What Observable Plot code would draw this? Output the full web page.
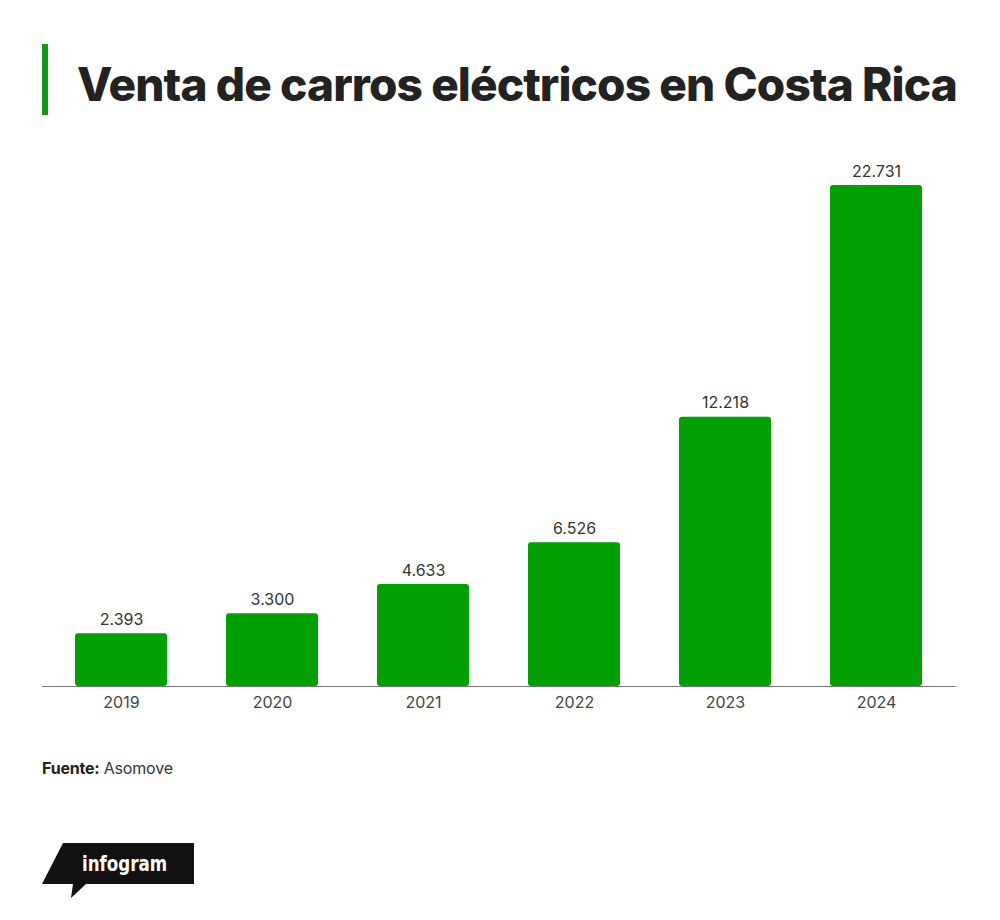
<!DOCTYPE html>
<html>
<head>
<meta charset="utf-8">
<script src="https://cdn.jsdelivr.net/npm/d3@7"></script>
<script src="https://cdn.jsdelivr.net/npm/@observablehq/plot@0.6"></script>
<style>
  html, body { margin: 0; padding: 0; background: #fff; }
  body { width: 1000px; height: 920px; position: relative; font-family: Inter, "Liberation Sans", sans-serif; }
  #titlebar { position: absolute; left: 42px; top: 44px; width: 6px; height: 71px; background: #0c9a17; }
  #title { position: absolute; left: 77px; top: 54px; margin: 0; font-size: 46px; font-weight: 800; letter-spacing: -0.9px; color: #222; white-space: nowrap; line-height: 60px; }
  #chart { position: absolute; left: 0; top: 140px; }
  #source { position: absolute; left: 42px; top: 758px; font-size: 16px; color: #333; letter-spacing: -0.2px; }
  #source b { color: #222; }
  #logo { position: absolute; left: 40px; top: 840px; }
</style>
</head>
<body>
<div id="titlebar"></div>
<h1 id="title">Venta de carros eléctricos en Costa Rica</h1>
<div id="chart"></div>
<div id="source"><b>Fuente:</b> Asomove</div>
<svg id="logo" width="160" height="62" viewBox="40 840 160 62">
  <path d="M63,843 L194,843 L194,884 L86,884 L71,898 L73,884 L42,884 Z" fill="#111"/>
  <text x="82" y="871" fill="#fff" font-family="'DejaVu Sans Condensed','DejaVu Sans',sans-serif" font-weight="bold" font-size="22" textLength="85" lengthAdjust="spacingAndGlyphs">infogram</text>
</svg>
<script>
const years = ["2019", "2020", "2021", "2022", "2023", "2024"];
const sales = [2393, 3300, 4633, 6526, 12218, 22731];

const data = years.map((year, i) => ({year, value: sales[i]}));
const fmt = d3.formatLocale({decimal: ",", thousands: ".", grouping: [3], currency: ["", ""]}).format(",");

const chart = Plot.plot({
  width: 1000,
  height: 590,
  marginLeft: 42,
  marginRight: 44,
  marginTop: 45,
  marginBottom: 44,
  style: {fontFamily: "Inter, 'Liberation Sans', sans-serif", fontSize: "16px", color: "#444", background: "transparent"},
  x: {domain: years, paddingInner: 0.39, paddingOuter: 0.22, label: null, tickSize: 0, tickPadding: 10},
  y: {domain: [0, 22731], axis: null},
  marks: [
    Plot.barY(data, {x: "year", y: "value", fill: "#02a003", rx: 3}),
    Plot.text(data, {x: "year", y: "value", text: d => fmt(d.value), dy: -14, fill: "#333", fontSize: 16}),
    Plot.ruleY([0], {stroke: "#777", strokeWidth: 1.2})
  ]
});
document.getElementById("chart").appendChild(chart);
</script>
</body>
</html>
